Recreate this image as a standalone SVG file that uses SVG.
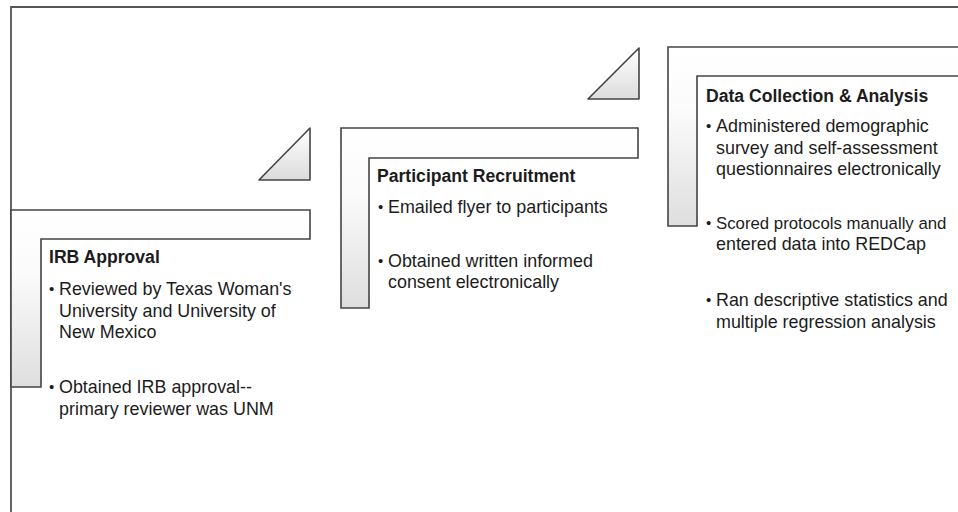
<svg xmlns="http://www.w3.org/2000/svg" width="958" height="512" viewBox="0 0 958 512">
<defs>
<linearGradient id="gL" x1="0" y1="0" x2="0" y2="1">
<stop offset="0" stop-color="#ffffff"/>
<stop offset="0.35" stop-color="#fbfbfb"/>
<stop offset="1" stop-color="#dedede"/>
</linearGradient>
<linearGradient id="gT" x1="0" y1="0" x2="0" y2="1">
<stop offset="0" stop-color="#ffffff"/>
<stop offset="1" stop-color="#dcdcdc"/>
</linearGradient>
<style>
.shape{fill:url(#gL);stroke:#444;stroke-width:1.6;stroke-linejoin:miter}
.tri{fill:url(#gT);stroke:#444;stroke-width:1.6;stroke-linejoin:round}
.frame{fill:none;stroke:#555;stroke-width:1.8}
text{font-family:"Liberation Sans",Arial,sans-serif;font-size:17.9px;fill:#1c1c1c}
.title{font-weight:bold;font-size:17.6px}
.dot{font-size:15px}
.tight{font-size:16.8px}
</style>
</defs>
<rect x="0" y="0" width="958" height="512" fill="#ffffff"/>
<g id="frame">
<line class="frame" x1="11" y1="7" x2="958" y2="7" stroke="#777"/>
<line class="frame" x1="11" y1="6" x2="11" y2="512"/>
</g>
<g id="connectors">
<polygon class="tri" points="259,180 310,128 310,180"/>
<polygon class="tri" points="588,99 639,48 639,99"/>
</g>
<g id="irb">
<polygon class="shape" points="11,210 310,210 310,239 41,239 41,387 11,387"/>
<text class="title" x="49" y="263">IRB Approval</text>
<text class="dot" x="49" y="294">•</text>
<text x="59" y="295">Reviewed by Texas Woman's</text>
<text x="59" y="317">University and University of</text>
<text x="59" y="338">New Mexico</text>
<text class="dot" x="49" y="392">•</text>
<text x="59" y="393">Obtained IRB approval--</text>
<text x="59" y="415">primary reviewer was UNM</text>
</g>
<g id="recruitment">
<polygon class="shape" points="341,128 638,128 638,158 369,158 369,308 341,308"/>
<text class="title" x="377" y="182">Participant Recruitment</text>
<text class="dot" x="378" y="212">•</text>
<text x="388" y="213">Emailed flyer to participants</text>
<text class="dot" x="378" y="266">•</text>
<text x="388" y="267">Obtained written informed</text>
<text x="388" y="288">consent electronically</text>
</g>
<g id="data">
<polygon class="shape" points="668,47 970,47 970,76 697,76 697,226 668,226"/>
<text class="title" x="706" y="102">Data Collection &amp; Analysis</text>
<text class="dot" x="706" y="131">•</text>
<text x="716" y="132">Administered demographic</text>
<text x="716" y="154">survey and self-assessment</text>
<text x="716" y="175">questionnaires electronically</text>
<text class="dot" x="706" y="228">•</text>
<text class="tight" x="716" y="229">Scored protocols manually and</text>
<text x="716" y="250">entered data into REDCap</text>
<text class="dot" x="706" y="305">•</text>
<text x="716" y="306">Ran descriptive statistics and</text>
<text x="716" y="328">multiple regression analysis</text>
</g>
</svg>
